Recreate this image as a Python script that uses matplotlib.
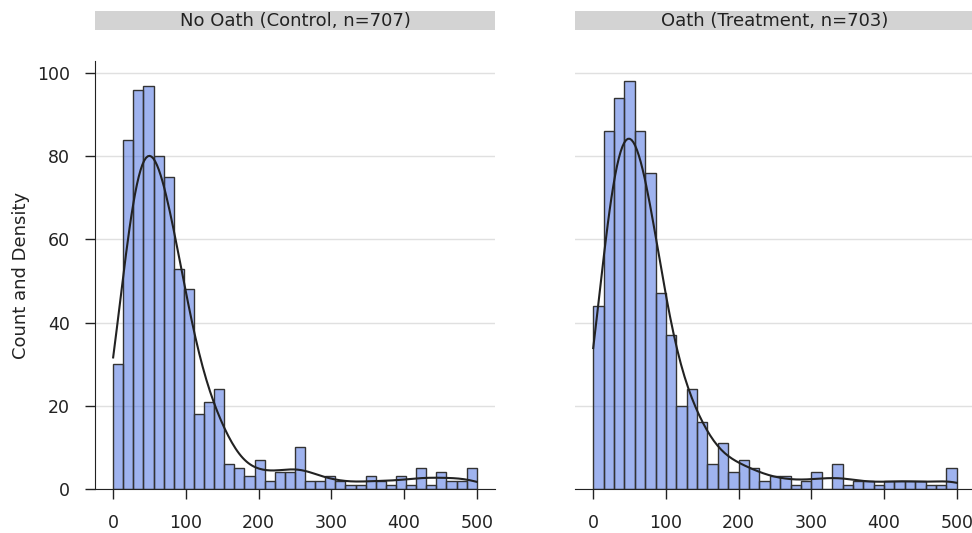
import matplotlib
matplotlib.use("Agg")
import matplotlib.pyplot as plt
import numpy as np
from matplotlib.patches import Rectangle

# histogram counts (bins span 0..500)
control_counts = [30, 84, 96, 97, 80, 75, 53, 48, 18, 21, 24, 6, 5, 3, 7, 2, 4, 4,
                  10, 2, 2, 3, 2, 1, 1, 3, 2, 1, 3, 1, 5, 1, 4, 2, 2, 5]
oath_counts = [44, 86, 94, 98, 86, 76, 47, 37, 20, 24, 16, 6, 11, 4, 7, 5, 2, 3,
               3, 1, 2, 4, 0, 6, 1, 2, 2, 1, 2, 2, 2, 2, 1, 1, 5]
panel_titles = ["No Oath (Control, n=707)", "Oath (Treatment, n=703)"]
x_range = (0, 500)
y_ticks = [0, 20, 40, 60, 80, 100]
x_ticks = [0, 100, 200, 300, 400, 500]

BAR_FACE = (0.255, 0.412, 0.882, 0.5)
BAR_EDGE = "#333333"
LINE_COLOR = "#222222"
STRIP_COLOR = "#d3d3d3"


def kde_counts(counts, edges, grid):
    # gaussian kde of the binned sample, scaled to counts like seaborn's histplot
    centers = (edges[:-1] + edges[1:]) / 2
    sample = np.repeat(centers, counts)
    n = len(sample)
    bw = sample.std(ddof=1) * n ** (-1 / 5)
    z = (grid[:, None] - sample[None, :]) / bw
    dens = np.exp(-0.5 * z ** 2).sum(axis=1) / (n * bw * np.sqrt(2 * np.pi))
    return dens * n * (edges[1] - edges[0])


fig = plt.figure(figsize=(9.72, 5.33), dpi=100)
positions = [(0.0977, 0.0826, 0.4115, 0.803), (0.5916, 0.0826, 0.4115, 0.803)]
axes = [fig.add_axes(p) for p in positions]

for i, (ax, counts, title) in enumerate(zip(axes, [control_counts, oath_counts], panel_titles)):
    edges = np.linspace(x_range[0], x_range[1], len(counts) + 1)
    ax.bar(edges[:-1], counts, width=np.diff(edges), align="edge",
           facecolor=BAR_FACE, edgecolor=BAR_EDGE, linewidth=1.0, zorder=2)
    grid = np.linspace(x_range[0], x_range[1], 200)
    ax.plot(grid, kde_counts(counts, edges, grid), color=LINE_COLOR, lw=1.5, zorder=3)

    ax.set_xlim(-25, 525)
    ax.set_ylim(0, 102.9)
    ax.set_xticks(x_ticks)
    ax.set_yticks(y_ticks)
    ax.grid(axis="y", color="#e0e0e0", lw=1.0, zorder=0)
    ax.set_axisbelow(True)
    for side in ("top", "right"):
        ax.spines[side].set_visible(False)
    ax.spines["bottom"].set_color("#222222")
    ax.spines["left"].set_color("#222222")
    ax.tick_params(axis="both", length=7.5, width=1, pad=10.5, color="#222222",
                   labelsize=12.5, labelcolor="#222222")

    # facet strip above the panel
    ax.add_patch(Rectangle((0, 1.072), 1, 0.045, transform=ax.transAxes,
                           facecolor=STRIP_COLOR, edgecolor="none", clip_on=False))
    ax.text(0.5, 1.094, title, transform=ax.transAxes, ha="center", va="center",
            fontsize=13, color="#222222")

axes[0].set_ylabel("Count and Density", fontsize=13, color="#222222", labelpad=5)
axes[1].spines["left"].set_visible(False)
axes[1].tick_params(axis="y", left=False, labelleft=False)

fig.savefig("out.png", dpi=100)
